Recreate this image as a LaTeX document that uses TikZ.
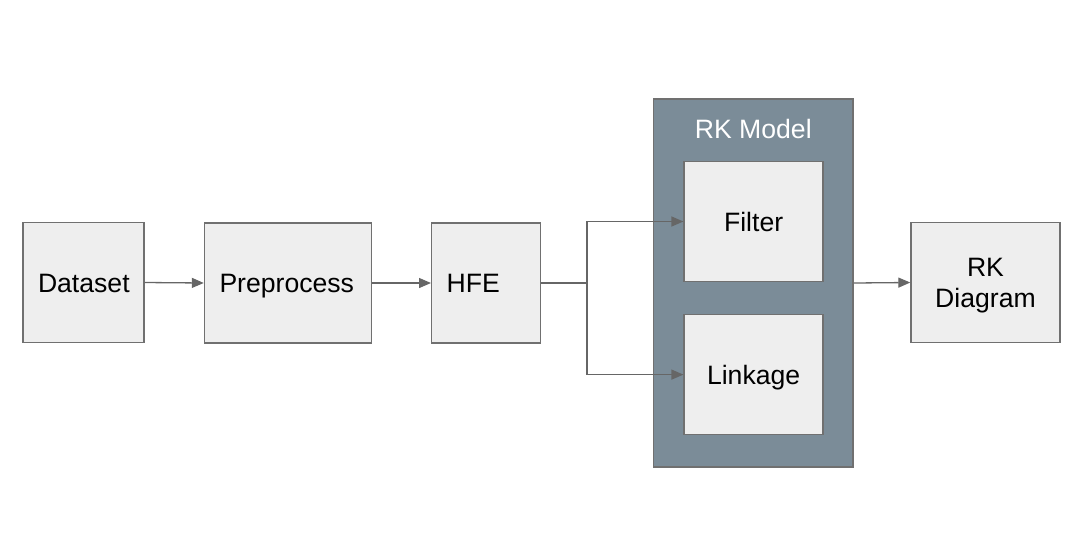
\documentclass[tikz,border=0pt]{standalone}
\usepackage{fontspec}
\setmainfont{Liberation Sans}
\usetikzlibrary{arrows.meta,positioning,calc}
\definecolor{boxfill}{HTML}{EEEEEE}
\definecolor{boxline}{HTML}{707070}
\definecolor{slate}{HTML}{7B8C98}
\definecolor{arrowc}{HTML}{666666}
\begin{document}
\begin{tikzpicture}[x=1pt,y=-1pt,
  font=\fontsize{26.6}{31.5}\selectfont,
  blk/.style={draw=boxline, fill=boxfill, line width=1.4pt, minimum height=120pt, inner sep=0pt, align=center, text height=19pt, text depth=0pt},
  lblk/.style={blk, align=left, inner xsep=15pt, text width=#1-30pt, minimum width=#1},
  cblk/.style={blk, minimum width=#1},
  conn/.style={draw=arrowc, line width=1.3pt},
  arr/.style={conn, -{Triangle[length=12pt,width=10pt]}}
]
\useasboundingbox (0,0) rectangle (1088,542);
\node[lblk=121pt] (dataset) at (83.5,282.5) {Dataset};
\node[lblk=167pt] (prep) at (288,283) {Preprocess};
\node[lblk=109pt] (hfe) at (486.2,283) {HFE};
\node[draw=boxline, fill=slate, line width=1.4pt, minimum width=199.5pt, minimum height=368pt, inner sep=0pt] (model) at (753.3,283) {};
\node[text=white, inner sep=0pt, text height=19pt, text depth=0pt] (modellbl) at (753.3,128.5) {RK Model};
\node[cblk=139pt] (filter) at (753.6,221.5) {Filter};
\node[cblk=139pt] (linkage) at (753.6,374.6) {Linkage};
\node[cblk=149pt, text height=50pt, text depth=0pt] (rkd) at (985.5,282.5) {RK\\Diagram};
\coordinate (split) at (587,283);
\draw[arr] (dataset.east) -- (prep.west);
\draw[arr] (prep.east) -- (hfe.west);
\draw[conn] (hfe.east) -- (split);
\draw[arr] (split) |- (filter.west);
\draw[arr] (split) |- (linkage.west);
\draw[arr] (model.east) -- (rkd.west);
\end{tikzpicture}
\end{document}
